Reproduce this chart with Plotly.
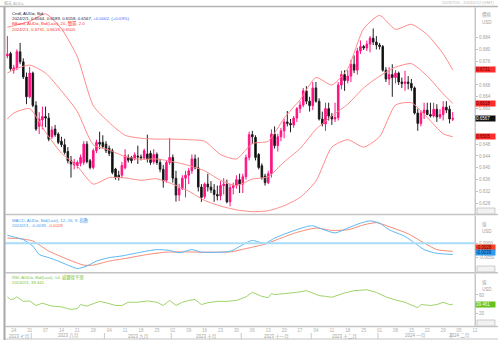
import pandas as pd
import plotly.graph_objects as go
from plotly.subplots import make_subplots

# ---------------- data ----------------
dates = pd.bdate_range("2023-07-20", "2024-02-01")

open_px = [
    0.6778, 0.6786, 0.6730, 0.6738, 0.6792, 0.6758, 0.6707, 0.6640,
    0.6720, 0.6611, 0.6540, 0.6562, 0.6573, 0.6568, 0.6505, 0.6531, 0.6514, 0.6490, 0.6478, 0.6455,
    0.6424, 0.6410, 0.6407, 0.6415, 0.6418, 0.6480, 0.6424, 0.6401, 0.6458, 0.6486, 0.6486,
    0.6480, 0.6466, 0.6458, 0.6396, 0.6375, 0.6375, 0.6400, 0.6435, 0.6435, 0.6430, 0.6440,
    0.6437, 0.6433, 0.6447, 0.6449, 0.6420, 0.6445, 0.6418, 0.6395, 0.6358, 0.6418,
    0.6435, 0.6365, 0.6308, 0.6330, 0.6365, 0.6375, 0.6390, 0.6430, 0.6400, 0.6335, 0.6303,
    0.6345, 0.6335, 0.6325, 0.6310, 0.6305, 0.6340, 0.6345, 0.6285, 0.6333, 0.6340, 0.6360,
    0.6345, 0.6370, 0.6435, 0.6512, 0.6503, 0.6445, 0.6407, 0.6372, 0.6350, 0.6380, 0.6514,
    0.6475, 0.6505, 0.6525, 0.6555, 0.6550, 0.6545, 0.6568, 0.6600, 0.6612, 0.6660, 0.6625,
    0.6610, 0.6670, 0.6625, 0.6565, 0.6548, 0.6600, 0.6575, 0.6565, 0.6570, 0.6680, 0.6715,
    0.6695, 0.6710, 0.6750, 0.6730, 0.6795, 0.6810, 0.6805, 0.6818, 0.6838, 0.6825,
    0.6815, 0.6810, 0.6730, 0.6700, 0.6715, 0.6705, 0.6720, 0.6690, 0.6685, 0.6690, 0.6685,
    0.6670, 0.6585, 0.6550, 0.6585, 0.6595, 0.6580, 0.6575, 0.6598, 0.6572, 0.6580, 0.6605,
    0.6598, 0.6564,
]
high_px = [
    0.6845, 0.6792, 0.6748, 0.6800, 0.6822, 0.6770, 0.6722, 0.6741,
    0.6725, 0.6625, 0.6588, 0.6607, 0.6607, 0.6585, 0.6540, 0.6545, 0.6520, 0.6505, 0.6498, 0.6470,
    0.6440, 0.6430, 0.6425, 0.6445, 0.6490, 0.6490, 0.6430, 0.6465, 0.6495, 0.6522, 0.6510,
    0.6490, 0.6475, 0.6465, 0.6400, 0.6390, 0.6420, 0.6463, 0.6445, 0.6440, 0.6452, 0.6475,
    0.6445, 0.6465, 0.6512, 0.6458, 0.6463, 0.6452, 0.6430, 0.6410, 0.6425, 0.6501,
    0.6445, 0.6390, 0.6346, 0.6375, 0.6390, 0.6400, 0.6445, 0.6445, 0.6435, 0.6345, 0.6350,
    0.6380, 0.6355, 0.6345, 0.6340, 0.6355, 0.6365, 0.6360, 0.6345, 0.6350, 0.6375, 0.6380,
    0.6380, 0.6445, 0.6522, 0.6525, 0.6510, 0.6450, 0.6415, 0.6380, 0.6390, 0.6530, 0.6540,
    0.6515, 0.6535, 0.6565, 0.6592, 0.6565, 0.6575, 0.6605, 0.6625, 0.6670, 0.6676, 0.6640,
    0.6690, 0.6690, 0.6635, 0.6590, 0.6620, 0.6620, 0.6585, 0.6620, 0.6690, 0.6728, 0.6730,
    0.6730, 0.6765, 0.6780, 0.6805, 0.6830, 0.6815, 0.6830, 0.6845, 0.6871, 0.6845,
    0.6822, 0.6815, 0.6740, 0.6740, 0.6750, 0.6730, 0.6725, 0.6705, 0.6728, 0.6710, 0.6700,
    0.6675, 0.6600, 0.6595, 0.6620, 0.6620, 0.6620, 0.6620, 0.6615, 0.6598, 0.6625, 0.6625,
    0.6610, 0.6589,
]
low_px = [
    0.6770, 0.6728, 0.6718, 0.6730, 0.6750, 0.6700, 0.6615, 0.6635,
    0.6605, 0.6525, 0.6514, 0.6530, 0.6537, 0.6490, 0.6498, 0.6505, 0.6480, 0.6470, 0.6445, 0.6415,
    0.6367, 0.6395, 0.6398, 0.6405, 0.6410, 0.6415, 0.6395, 0.6395, 0.6450, 0.6463, 0.6465,
    0.6450, 0.6440, 0.6378, 0.6360, 0.6357, 0.6365, 0.6395, 0.6418, 0.6415, 0.6425, 0.6413,
    0.6425, 0.6428, 0.6418, 0.6410, 0.6412, 0.6410, 0.6385, 0.6333, 0.6350, 0.6410,
    0.6350, 0.6286, 0.6288, 0.6325, 0.6300, 0.6345, 0.6380, 0.6395, 0.6320, 0.6285, 0.6295,
    0.6320, 0.6315, 0.6285, 0.6290, 0.6290, 0.6310, 0.6280, 0.6270, 0.6310, 0.6330, 0.6315,
    0.6315, 0.6360, 0.6425, 0.6480, 0.6425, 0.6395, 0.6360, 0.6340, 0.6345, 0.6367, 0.6465,
    0.6455, 0.6490, 0.6500, 0.6540, 0.6520, 0.6535, 0.6555, 0.6585, 0.6605, 0.6615, 0.6590,
    0.6595, 0.6620, 0.6560, 0.6540, 0.6525, 0.6560, 0.6545, 0.6555, 0.6560, 0.6665, 0.6660,
    0.6685, 0.6690, 0.6720, 0.6715, 0.6785, 0.6798, 0.6795, 0.6790, 0.6815, 0.6800,
    0.6800, 0.6725, 0.6690, 0.6680, 0.6640, 0.6685, 0.6680, 0.6670, 0.6660, 0.6665, 0.6660,
    0.6580, 0.6525, 0.6540, 0.6565, 0.6578, 0.6570, 0.6570, 0.6555, 0.6565, 0.6560, 0.6585,
    0.6550, 0.6558,
]
close_px = [
    0.6784, 0.6735, 0.6738, 0.6792, 0.6758, 0.6707, 0.6640, 0.6720,
    0.6611, 0.6531, 0.6565, 0.6573, 0.6568, 0.6497, 0.6528, 0.6512, 0.6486, 0.6478, 0.6452, 0.6424,
    0.6413, 0.6418, 0.6418, 0.6435, 0.6480, 0.6421, 0.6401, 0.6458, 0.6486, 0.6480, 0.6472,
    0.6458, 0.6449, 0.6384, 0.6367, 0.6368, 0.6408, 0.6441, 0.6426, 0.6424, 0.6444, 0.6437,
    0.6434, 0.6458, 0.6430, 0.6418, 0.6445, 0.6418, 0.6395, 0.6356, 0.6418, 0.6435,
    0.6365, 0.6308, 0.6330, 0.6365, 0.6375, 0.6390, 0.6430, 0.6400, 0.6335, 0.6300, 0.6345,
    0.6335, 0.6325, 0.6310, 0.6305, 0.6340, 0.6345, 0.6285, 0.6333, 0.6340, 0.6360, 0.6345,
    0.6370, 0.6435, 0.6512, 0.6505, 0.6435, 0.6401, 0.6367, 0.6350, 0.6380, 0.6514, 0.6475,
    0.6505, 0.6525, 0.6555, 0.6550, 0.6545, 0.6568, 0.6600, 0.6612, 0.6660, 0.6625, 0.6610,
    0.6670, 0.6625, 0.6565, 0.6548, 0.6600, 0.6575, 0.6565, 0.6570, 0.6680, 0.6715, 0.6695,
    0.6710, 0.6750, 0.6730, 0.6795, 0.6810, 0.6805, 0.6818, 0.6838, 0.6825, 0.6815,
    0.6810, 0.6730, 0.6700, 0.6715, 0.6705, 0.6720, 0.6690, 0.6685, 0.6690, 0.6685, 0.6670,
    0.6585, 0.6550, 0.6585, 0.6595, 0.6580, 0.6575, 0.6598, 0.6572, 0.6580, 0.6605, 0.6595,
    0.6565, 0.6567,
]

# Bollinger band (20, 2.0) sampled weekly
band_dates = [
    "2023-07-20", "2023-07-24", "2023-07-31", "2023-08-07", "2023-08-14", "2023-08-21",
    "2023-08-28", "2023-09-04", "2023-09-11", "2023-09-18", "2023-09-25", "2023-10-02",
    "2023-10-09", "2023-10-16", "2023-10-23", "2023-10-30", "2023-11-06", "2023-11-13",
    "2023-11-20", "2023-11-27", "2023-12-04", "2023-12-11", "2023-12-18", "2023-12-25",
    "2024-01-01", "2024-01-08", "2024-01-15", "2024-01-22", "2024-01-29", "2024-02-01",
]
bb_upper = [
    0.6875, 0.6880, 0.6895, 0.6920, 0.6870, 0.6775, 0.6610, 0.6553, 0.6510, 0.6500,
    0.6497, 0.6497, 0.6495, 0.6490, 0.6445, 0.6430, 0.6482, 0.6490, 0.6568, 0.6630,
    0.6705, 0.6680, 0.6735, 0.6870, 0.6915, 0.6868, 0.6885, 0.6850, 0.6785, 0.6731,
]
bb_mid = [
    0.6720, 0.6732, 0.6747, 0.6720, 0.6660, 0.6590, 0.6478, 0.6460, 0.6438, 0.6429,
    0.6430, 0.6421, 0.6408, 0.6390, 0.6358, 0.6340, 0.6362, 0.6370, 0.6420, 0.6465,
    0.6530, 0.6575, 0.6615, 0.6670, 0.6710, 0.6740, 0.6752, 0.6710, 0.6650, 0.6618,
]
bb_lower = [
    0.6565, 0.6585, 0.6600, 0.6520, 0.6450, 0.6405, 0.6345, 0.6367, 0.6366, 0.6358,
    0.6363, 0.6345, 0.6321, 0.6290, 0.6271, 0.6258, 0.6252, 0.6255, 0.6272, 0.6300,
    0.6355, 0.6470, 0.6495, 0.6470, 0.6505, 0.6612, 0.6620, 0.6570, 0.6515, 0.6505,
]

# MACD (12, 26, 9)
macd_dates = [
    "2023-07-20", "2023-07-24", "2023-07-27", "2023-08-01", "2023-08-03", "2023-08-08",
    "2023-08-11", "2023-08-16", "2023-08-21", "2023-08-24", "2023-08-29", "2023-09-04",
    "2023-09-08", "2023-09-15", "2023-09-25", "2023-09-29", "2023-10-04", "2023-10-10",
    "2023-10-13", "2023-10-20", "2023-10-26", "2023-11-02", "2023-11-06", "2023-11-10",
    "2023-11-15", "2023-11-21", "2023-11-29", "2023-12-01", "2023-12-06", "2023-12-12",
    "2023-12-18", "2023-12-22", "2023-12-27", "2024-01-01", "2024-01-04", "2024-01-11",
    "2024-01-16", "2024-01-19", "2024-01-24", "2024-01-29", "2024-02-01",
]
macd_line = [
    0.0028, 0.0022, 0.0013, -0.0010, -0.0039, -0.0050, -0.0062, -0.0076, -0.0088, -0.0079,
    -0.0062, -0.0050, -0.0044, -0.0033, -0.0022, -0.0025, -0.0033, -0.0022, -0.0031, -0.0031,
    -0.0028, 0.0001, 0.0010, 0.0000, 0.0018, 0.0036, 0.0058, 0.0061, 0.0049, 0.0036,
    0.0053, 0.0070, 0.0078, 0.0070, 0.0047, 0.0024, 0.0001, -0.0022, -0.0033, -0.0037,
    -0.0039,
]
signal_dates = [
    "2023-07-20", "2023-07-26", "2023-08-01", "2023-08-08", "2023-08-16", "2023-08-23",
    "2023-08-28", "2023-09-04", "2023-09-11", "2023-09-20", "2023-09-28", "2023-10-06",
    "2023-10-16", "2023-10-26", "2023-11-03", "2023-11-10", "2023-11-17", "2023-11-24",
    "2023-12-04", "2023-12-11", "2023-12-18", "2023-12-25", "2023-12-29", "2024-01-04",
    "2024-01-12", "2024-01-19", "2024-01-25", "2024-02-01",
]
signal_line = [
    0.0018, 0.0016, 0.0008, -0.0027, -0.0056, -0.0076, -0.0076, -0.0062, -0.0053, -0.0039,
    -0.0031, -0.0030, -0.0031, -0.0030, -0.0016, -0.0003, 0.0018, 0.0038, 0.0053, 0.0045,
    0.0047, 0.0064, 0.0072, 0.0058, 0.0033, 0.0001, -0.0022, -0.0028,
]

# RSI (14, Wilder)
rsi_dates = [
    "2023-07-20", "2023-07-21", "2023-07-24", "2023-07-25", "2023-07-27", "2023-07-31",
    "2023-08-02", "2023-08-04", "2023-08-09", "2023-08-14", "2023-08-16", "2023-08-17",
    "2023-08-21", "2023-08-22", "2023-08-24", "2023-08-29", "2023-08-30", "2023-09-01",
    "2023-09-06", "2023-09-08", "2023-09-12", "2023-09-15", "2023-09-20", "2023-09-25",
    "2023-09-27", "2023-09-29", "2023-10-03", "2023-10-05", "2023-10-09", "2023-10-11",
    "2023-10-13", "2023-10-17", "2023-10-20", "2023-10-25", "2023-10-30", "2023-11-02",
    "2023-11-06", "2023-11-09", "2023-11-13", "2023-11-14", "2023-11-15", "2023-11-24",
    "2023-11-29", "2023-11-30", "2023-12-05", "2023-12-07", "2023-12-11", "2023-12-15",
    "2023-12-20", "2023-12-26", "2023-12-29", "2024-01-03", "2024-01-08", "2024-01-11",
    "2024-01-16", "2024-01-17", "2024-01-18", "2024-01-23", "2024-01-25", "2024-01-29",
    "2024-01-31", "2024-02-01",
]
rsi_line = [
    55.8, 50.0, 51.5, 56.0, 46.0, 47.0, 37.0, 42.0, 35.6, 34.0, 30.0, 28.5,
    30.0, 39.0, 35.6, 44.0, 46.0, 43.0, 37.0, 37.0, 44.0, 44.0, 47.0, 44.0,
    37.0, 48.0, 37.0, 44.0, 48.0, 50.0, 39.0, 43.0, 46.0, 46.0, 48.0, 55.8,
    65.7, 57.0, 54.0, 63.0, 60.8, 65.7, 69.4, 67.0, 58.6, 57.0, 55.0, 64.4,
    69.4, 71.5, 65.7, 55.8, 49.0, 44.0, 35.6, 32.0, 39.0, 37.0, 39.0, 44.0,
    39.0, 39.461,
]

# price ticks left visible beside the value boxes
price_ticks = [0.628, 0.632, 0.636, 0.640, 0.644, 0.648, 0.660,
               0.664, 0.668, 0.676, 0.680, 0.684]
month_names = ["七月", "八月", "九月", "十月", "十一月", "十二月", "一月", "二月"]

# ---------------- styling helpers ----------------
W, H = 500, 340
L, R, T, B = 5, 23, 8, 14
PW, PH = W - L - R, H - T - B
FONT = "Liberation Sans, Noto Sans CJK TC, sans-serif"
GRAY = "#a0a0a0"
PINK = "#ff1282"
BAND = "#ff8a8a"
MACD_BLUE = "#5cb8f5"
SIG_RED = "#f58a74"
RSI_GREEN = "#9fd46a"


def px_x(px):
    return (px - L) / PW


def px_y(py):
    return (H - B - py) / PH


def dom(top_px, bottom_px):
    return [px_y(bottom_px), px_y(top_px)]


fig = make_subplots(rows=3, cols=1, shared_xaxes=True, vertical_spacing=0.01)

fig.add_trace(go.Candlestick(
    x=dates, open=open_px, high=high_px, low=low_px, close=close_px,
    increasing=dict(line=dict(color=PINK, width=1), fillcolor=PINK),
    decreasing=dict(line=dict(color="#202020", width=1), fillcolor="#000000"),
    whiskerwidth=0, hoverinfo="skip"), row=1, col=1)

for band in (bb_upper, bb_mid, bb_lower):
    fig.add_trace(go.Scatter(x=pd.to_datetime(band_dates), y=band, mode="lines",
                             line=dict(color=BAND, width=1, shape="spline", smoothing=0.6),
                             hoverinfo="skip"), row=1, col=1)

fig.add_trace(go.Scatter(x=pd.to_datetime(signal_dates), y=signal_line, mode="lines",
                         line=dict(color=SIG_RED, width=1, shape="spline", smoothing=0.6)),
              row=2, col=1)
fig.add_trace(go.Scatter(x=pd.to_datetime(macd_dates), y=macd_line, mode="lines",
                         line=dict(color=MACD_BLUE, width=1, shape="spline", smoothing=0.6)),
              row=2, col=1)
fig.add_hline(y=0, line=dict(color="#a9dcf7", width=2), row=2, col=1)

fig.add_hline(y=70, line=dict(color="#cbe9a5", width=1.5), row=3, col=1)
fig.add_hline(y=30, line=dict(color="#cbe9a5", width=1.5), row=3, col=1)
fig.add_trace(go.Scatter(x=pd.to_datetime(rsi_dates), y=rsi_line, mode="lines",
                         line=dict(color=RSI_GREEN, width=1)), row=3, col=1)

# ---------------- axes ----------------
mondays = pd.date_range("2023-07-24", "2024-02-12", freq="W-MON")
x_range = ["2023-07-19 06:00", "2024-02-12 00:00"]
fig.update_xaxes(rangebreaks=[dict(bounds=["sat", "mon"])], range=x_range,
                 rangeslider_visible=False, showgrid=False, zeroline=False,
                 showline=False, tickvals=mondays, ticktext=[d.strftime("%d") for d in mondays],
                 ticks="", tickfont=dict(size=4.5, color="#b0b0b0", family=FONT))
fig.update_xaxes(showticklabels=False, row=1, col=1)
fig.update_xaxes(showticklabels=False, row=2, col=1)

axis_common = dict(side="right", showgrid=False, zeroline=False, ticks="outside",
                   ticklen=2, tickcolor="#c0c0c0", tickfont=dict(size=4.5, color=GRAY, family=FONT),
                   showline=True, linecolor="#c8c8c8", linewidth=1)
fig.update_yaxes(domain=dom(8, 214), range=[0.6244, 0.6940], tickvals=price_ticks,
                 ticktext=[f"{v:.3f}" for v in price_ticks], row=1, col=1, **axis_common)
fig.update_yaxes(domain=dom(216, 272), range=[-0.0100, 0.0095], tickvals=[0, -0.005],
                 ticktext=["0.0000", "-0.0050"], row=2, col=1, **axis_common)
fig.update_yaxes(domain=dom(274, 326), range=[-8, 106], tickvals=[20, 60],
                 ticktext=["20", "60"], row=3, col=1, **axis_common)

# ---------------- frame ----------------
shapes = [
    dict(type="rect", xref="paper", yref="paper", x0=px_x(0), x1=px_x(500), y0=px_y(6), y1=px_y(0),
         fillcolor="#eeeeee", line=dict(width=0), layer="below"),
    dict(type="line", xref="paper", yref="paper", x0=px_x(0), x1=px_x(500), y0=px_y(6.5), y1=px_y(6.5),
         line=dict(color="#b4b4b4", width=1.5)),
    dict(type="line", xref="paper", yref="paper", x0=px_x(4.5), x1=px_x(4.5), y0=px_y(7), y1=px_y(340),
         line=dict(color="#a8a8a8", width=2)),
    dict(type="line", xref="paper", yref="paper", x0=px_x(477), x1=px_x(477), y0=px_y(7), y1=px_y(327),
         line=dict(color="#c8c8c8", width=1)),
]
for yy in (214.5, 272.8, 326.5):
    shapes.append(dict(type="line", xref="paper", yref="paper", x0=px_x(5), x1=px_x(500),
                       y0=px_y(yy), y1=px_y(yy), line=dict(color="#c4c4c4", width=1.5)))
shapes.append(dict(type="line", xref="paper", yref="paper", x0=px_x(5), x1=px_x(500),
                   y0=px_y(339), y1=px_y(339), line=dict(color="#c4c4c4", width=1)))
for y0, y1 in ((208, 214), (266, 272), (320, 326)):
    shapes.append(dict(type="rect", xref="paper", yref="paper", x0=px_x(479), x1=px_x(497),
                       y0=px_y(y1), y1=px_y(y0), fillcolor="#f2f2f2",
                       line=dict(color="#c0c0c0", width=0.8)))

# month separators and labels on the lower date row
axis_days = pd.bdate_range("2023-07-20", "2024-02-09")
annotations = []
months = pd.period_range("2023-07", "2024-02", freq="M")
for k, m in enumerate(months):
    in_month = [j for j, d in enumerate(axis_days) if d.to_period("M") == m]
    first, last = in_month[0], in_month[-1]
    centre = axis_days[first] + (axis_days[last] - axis_days[first]) / 2
    if k > 0:
        sep = axis_days[first - 1] + pd.Timedelta(hours=12)
        shapes.append(dict(type="line", xref="x3", yref="paper", x0=sep, x1=sep,
                           y0=px_y(339), y1=px_y(333), line=dict(color="#c8c8c8", width=1)))
    annotations.append(dict(x=centre, y=px_y(336.3), xref="x3", yref="paper",
                            xanchor="center", yanchor="middle",
                            text=f"{m.year} {month_names[k]}", showarrow=False,
                            font=dict(size=4.5, color=GRAY, family=FONT)))


def note(px, py, text, color, size=4.5, anchor="left", **kw):
    annotations.append(dict(x=px_x(px), y=px_y(py), xref="paper", yref="paper", text=text,
                            showarrow=False, xanchor=anchor, yanchor="middle",
                            font=dict(size=size, color=color, family=FONT), **kw))


chg = close_px[-1] - close_px[-2]
pct = chg / close_px[-2] * 100
last_day = f"{dates[-1].year}/{dates[-1].month}/{dates[-1].day}"

note(2, 3, "報夫 AUD=", "#b0b0b0", size=4)
note(498, 3, "2023/7/20 - 2024/2/12 (GMT)", "#b8b8b8", size=4, anchor="right")

note(10, 13.0, "Cndl, AUD=, Bid", "#1a1a3a", size=4.3)
note(10, 18.4, f"{last_day}, {open_px[-1]:.4f}, {high_px[-1]:.4f}, {low_px[-1]:.4f}, "
     f"{close_px[-1]:.4f}, <span style='color:#4a5cff'>{chg:+.4f}, ({pct:+.2f}%)</span>",
     "#1a1a3a", size=4.3)
note(10, 23.9, "BBand, AUD=, Bid(Last), 20, 簡單, 2.0", "#ff3030", size=4.3)
note(10, 29.4, f"{last_day}, {bb_upper[-1]:.4f}, {bb_mid[-1]:.4f}, {bb_lower[-1]:.4f}",
     "#ff3030", size=4.3)

note(10, 220.2, "MACD, AUD=, Bid(Last), 12, 26, 9, 指數", "#3aa0f0", size=4.3)
note(10, 225.6, f"{last_day}, {macd_line[-1]:.4f}, "
     f"<span style='color:#ff5a40'>{signal_line[-1]:.4f}</span>", "#3aa0f0", size=4.3)

note(10, 277, "RSI, AUD=, Bid(Last), 14, 威爾德平滑", "#7cc23c", size=4.3)
note(10, 282.4, f"{last_day}, {rsi_line[-1]:.3f}", "#7cc23c", size=4.3)

# right-hand unit labels
note(482, 15, "價格", GRAY)
note(482, 22.5, "USD", GRAY)
note(482, 224.5, "值", GRAY)
note(482, 231.5, "USD", GRAY)
note(482, 282, "值", GRAY)
note(482, 289, "USD", GRAY)


def value_box(yref, val, text, bg, fg):
    annotations.append(dict(x=px_x(477.5), y=val, xref="paper", yref=yref, text=text,
                            showarrow=False, xanchor="left", yanchor="middle", align="left",
                            bgcolor=bg, width=19, height=5, borderpad=0,
                            font=dict(size=4.5, color=fg, family=FONT)))


value_box("y", bb_upper[-1], f"{bb_upper[-1]:.4f}", "#ff2a2a", "#5a0000")
value_box("y", bb_mid[-1], f"{bb_mid[-1]:.4f}", "#ff2a2a", "#5a0000")
value_box("y", close_px[-1], f"{close_px[-1]:.4f}", "#111111", "#ffffff")
value_box("y", bb_lower[-1], f"{bb_lower[-1]:.4f}", "#ff2a2a", "#5a0000")
value_box("y3", rsi_line[-1], f"{rsi_line[-1]:.3f}", "#66c21a", "#ffffff")

# the two MACD boxes sit close together, so they are stacked one above the other
for py, text, bg, fg in ((247.6, f"{signal_line[-1]:.4f}", "#ff4020", "#4a0000"),
                         (252.8, f"{macd_line[-1]:.4f}", "#2f9cf0", "#00204a")):
    annotations.append(dict(x=px_x(477.5), y=px_y(py), xref="paper", yref="paper", text=text,
                            showarrow=False, xanchor="left", yanchor="middle", align="left",
                            bgcolor=bg, width=19, height=5, borderpad=0,
                            font=dict(size=4.5, color=fg, family=FONT)))

fig.update_layout(width=W, height=H, margin=dict(l=L, r=R, t=T, b=B),
                  paper_bgcolor="white", plot_bgcolor="white", showlegend=False,
                  shapes=shapes, annotations=annotations,
                  font=dict(family=FONT, size=5, color=GRAY))

fig.write_html("out.html")
